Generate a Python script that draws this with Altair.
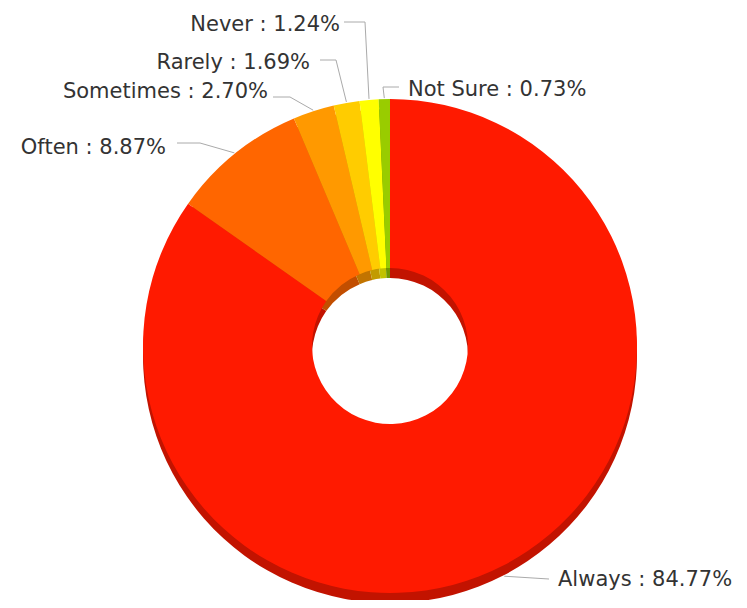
import math
import altair as alt
import pandas as pd

# ---- data ----
categories = ["Always", "Often", "Sometimes", "Rarely", "Never", "Not Sure"]
percents = [84.77, 8.87, 2.70, 1.69, 1.24, 0.73]
face_colors = ["#FF1A00", "#FF6600", "#FF9900", "#FFCC00", "#FFFF00", "#99CC00"]
side_colors = ["#C21300", "#C24E00", "#C27400", "#C29B00", "#C2C200", "#729800"]

df = pd.DataFrame({"category": categories, "percent": percents, "order": list(range(len(categories)))})
df["label"] = [f"{c} : {p:.2f}%" for c, p in zip(categories, percents)]

# ---- layout ----
W, H = 731, 592
CX, CY = 382, 338
R, R_IN, DEPTH = 247, 78, 10
FONT = "DejaVu Sans"
FS = 21
TEXT_COLOR = "#333333"
LINE_COLOR = "#AAAAAA"

# label placement: text anchor, align, leader start, leader elbow
label_layout = {
    "Always":    dict(tx=550, ty=572, align="left",  start=None,       elbow=(541, 571)),
    "Often":     dict(tx=158, ty=140, align="right", start=(169, 135), elbow=(192, 135)),
    "Sometimes": dict(tx=260, ty=84,  align="right", start=(265, 89),  elbow=(282, 89)),
    "Rarely":    dict(tx=302, ty=55,  align="right", start=(312, 52),  elbow=(328, 52)),
    "Never":     dict(tx=332, ty=17,  align="right", start=(336, 14),  elbow=(357, 14)),
    "Not Sure":  dict(tx=400, ty=82,  align="left",  start=(391, 79),  elbow=(375, 79)),
}

base = alt.Chart(df)
theta = alt.Theta("percent:Q", stack=True, scale=alt.Scale(range=[0, 2 * math.pi]))
order = alt.Order("order:Q")

side = base.mark_arc(outerRadius=R, innerRadius=R_IN).encode(
    theta=theta,
    order=order,
    color=alt.Color("category:N", scale=alt.Scale(domain=categories, range=side_colors), legend=None),
    x=alt.value(CX),
    y=alt.value(CY + DEPTH),
)

face = base.mark_arc(outerRadius=R, innerRadius=R_IN).encode(
    theta=theta,
    order=order,
    color=alt.Color("category:N", scale=alt.Scale(domain=categories, range=face_colors), legend=None),
    x=alt.value(CX),
    y=alt.value(CY),
)

one = pd.DataFrame({"k": [0]})


def seg(p, q):
    return alt.Chart(one).mark_rule(color=LINE_COLOR, strokeWidth=1).encode(
        x=alt.value(p[0]), y=alt.value(p[1]), x2=alt.value(q[0]), y2=alt.value(q[1])
    )


layers = [side, face]
cum = 0.0
for cat, pct in zip(categories, percents):
    mid = (cum + pct / 2) / 100 * 2 * math.pi
    cum += pct
    lay = label_layout[cat]
    ex = CX + (R + 1) * math.sin(mid)
    ey = CY - (R + 1) * math.cos(mid)
    if cat == "Always":
        ey += DEPTH
    edge = (round(ex, 1), round(ey, 1))
    if lay["start"] is not None:
        layers.append(seg(lay["start"], lay["elbow"]))
    layers.append(seg(lay["elbow"], edge))
    layers.append(
        base.transform_filter(alt.datum.category == cat)
        .mark_text(align=lay["align"], baseline="middle", font=FONT, fontSize=FS, color=TEXT_COLOR)
        .encode(text="label:N", x=alt.value(lay["tx"]), y=alt.value(lay["ty"]))
    )

chart = (
    alt.layer(*layers)
    .resolve_scale(color="independent", theta="shared")
    .properties(width=W, height=H, padding=0, autosize=alt.AutoSizeParams(type="none"), background="white")
    .configure_view(stroke=None)
)

chart.save("out.html", embed_options={"renderer": "svg", "actions": False})
